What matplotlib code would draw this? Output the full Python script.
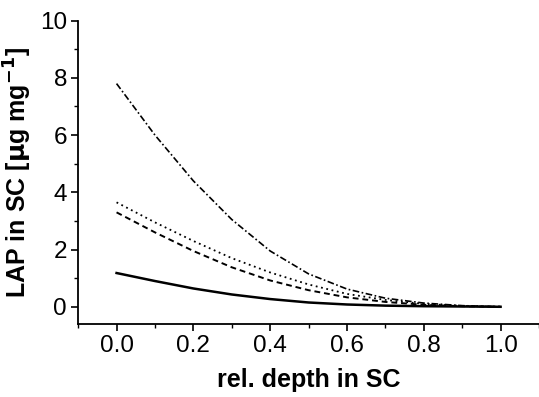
import matplotlib.pyplot as plt
from matplotlib.ticker import MultipleLocator

plt.rcParams['font.family'] = ['Liberation Sans', 'DejaVu Sans']

depth = [0.0, 0.1, 0.2, 0.3, 0.4, 0.5, 0.6, 0.7, 0.8, 0.9, 1.0]
lap_dashdot = [7.8, 6.0, 4.4, 3.05, 1.95, 1.15, 0.62, 0.3, 0.13, 0.04, 0.0]
lap_dotted = [3.65, 2.95, 2.3, 1.7, 1.2, 0.78, 0.45, 0.24, 0.1, 0.03, 0.0]
lap_dashed = [3.3, 2.6, 1.95, 1.38, 0.92, 0.58, 0.33, 0.17, 0.07, 0.02, 0.0]
lap_solid = [1.18, 0.9, 0.64, 0.43, 0.27, 0.15, 0.08, 0.04, 0.02, 0.01, 0.0]

fig = plt.figure(figsize=(5.39, 3.97), dpi=100)
ax = fig.add_axes([0.145, 0.184, 0.855, 0.764])

ax.plot(depth, lap_dashdot, color='black', lw=1.2, linestyle=(0, (4, 1.5, 1, 1.5)))
ax.plot(depth, lap_dotted, color='black', lw=1.3, linestyle=(0, (1, 2)))
ax.plot(depth, lap_dashed, color='black', lw=1.4, linestyle=(0, (3, 2)))
ax.plot(depth, lap_solid, color='black', lw=1.8, linestyle='-')

ax.set_xlim(-0.1, 1.1)
ax.set_ylim(-0.6, 10)
ax.xaxis.set_major_locator(MultipleLocator(0.2))
ax.xaxis.set_minor_locator(MultipleLocator(0.1))
ax.yaxis.set_major_locator(MultipleLocator(2))
ax.yaxis.set_minor_locator(MultipleLocator(1))
ax.xaxis.set_major_formatter(plt.FormatStrFormatter('%.1f'))

for side in ['top', 'right']:
    ax.spines[side].set_visible(False)
for side in ['left', 'bottom']:
    ax.spines[side].set_linewidth(1.3)

ax.tick_params(which='major', direction='out', length=5, width=1.2, labelsize=17.5, pad=3)
ax.tick_params(which='minor', direction='out', length=3, width=1.0)

ax.set_xlabel('rel. depth in SC', fontsize=18, fontweight='bold', labelpad=8)
ax.set_ylabel(r'LAP in SC [$\mathbf{\mu}$g mg$^{\mathbf{-1}}$]', fontsize=18,
              fontweight='bold', labelpad=4)

fig.savefig('out.png', dpi=100)
